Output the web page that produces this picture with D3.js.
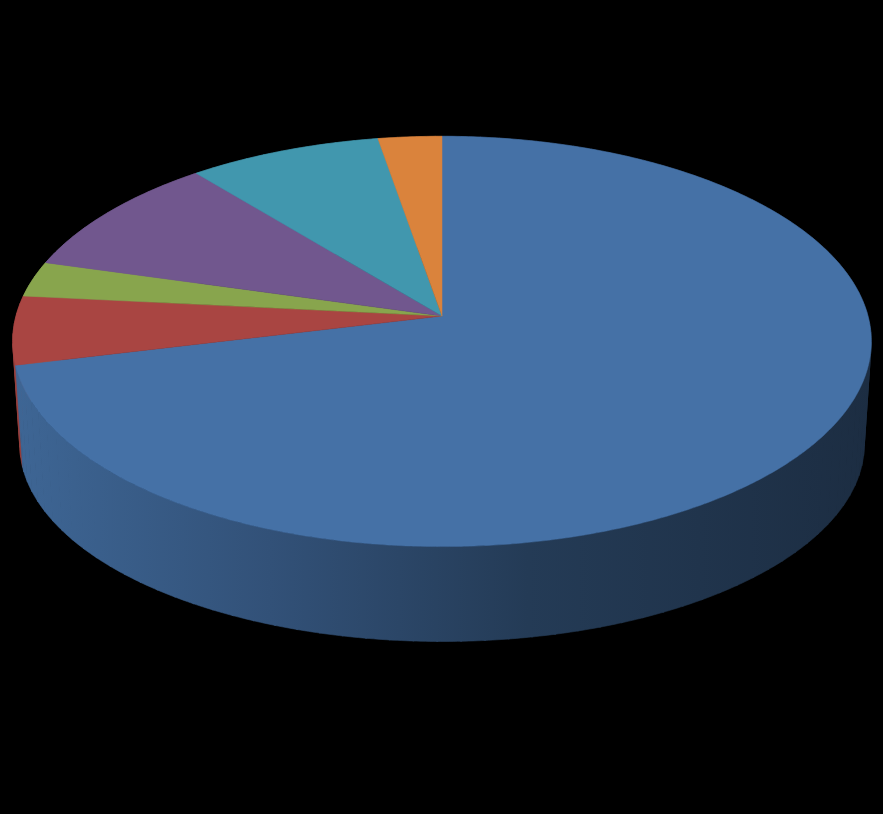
<!DOCTYPE html>
<html>
<head>
<meta charset="utf-8">
<script src="https://cdn.jsdelivr.net/npm/d3@7"></script>
<style>
  html, body { margin: 0; padding: 0; background: #000; }
  svg { display: block; }
</style>
</head>
<body>
<script>
  // slice data, clockwise from 12 o'clock
  const categories = ['Series 1', 'Series 2', 'Series 3', 'Series 4', 'Series 5', 'Series 6'];
  const values = [71.2, 5.4, 2.8, 9.7, 8.2, 2.7];
  const colors = ['#4571a6', '#a94542', '#88a54d', '#71578e', '#4197ae', '#da833c'];

  const width = 883;
  const height = 814;

  // projection settings for the tilted disc (top face and bottom face)
  const cx = 442;
  const persp = 0.124;
  const topFace = { cy: 316, rx: 426, ry: 202 };
  const botFace = { cy: 420, rx: 419, ry: 194 };

  const svg = d3.select('body')
    .append('svg')
    .attr('width', width)
    .attr('height', height);

  svg.append('rect')
    .attr('width', width)
    .attr('height', height)
    .attr('fill', '#000');

  const color = d3.scaleOrdinal()
    .domain(categories)
    .range(colors);

  const pie = d3.pie()
    .sort(null)
    .value((d) => d.value);

  const data = categories.map((c, i) => ({ name: c, value: values[i] }));
  const slices = pie(data);

  // point on a face, a = clockwise angle from top, r = 0..1
  const project = (a, r, face) => {
    const nx = Math.sin(a) * r;
    const ny = -Math.cos(a) * r;
    const f = 1 / (1 - persp * ny);
    return [cx + face.rx * nx * f, face.cy + face.ry * ny * f];
  };

  const line = d3.line();

  const arcPoints = (a0, a1, face) => {
    const n = Math.max(2, Math.ceil((a1 - a0) / 0.01));
    return d3.range(n + 1).map((k) => project(a0 + (a1 - a0) * k / n, 1, face));
  };

  const defs = svg.append('defs');

  slices.forEach((s, i) => {
    const c = d3.rgb(color(s.data.name));
    const g = defs.append('linearGradient')
      .attr('id', 'wall' + i)
      .attr('gradientUnits', 'userSpaceOnUse')
      .attr('x1', cx - topFace.rx - 4)
      .attr('x2', cx + topFace.rx + 4)
      .attr('y1', 0)
      .attr('y2', 0);
    const stops = [[0, 0.9], [0.3, 0.72], [0.6, 0.52], [1, 0.4]];
    stops.forEach(([o, k]) => {
      g.append('stop')
        .attr('offset', o)
        .attr('stop-color', d3.rgb(c.r * k, c.g * k, c.b * k).formatHex());
    });
  });

  // side walls, split into pieces and painted back to front
  const walls = [];
  slices.forEach((s, i) => {
    const step = 0.05;
    for (let a = s.startAngle; a < s.endAngle; a += step) {
      const b = Math.min(a + step + 0.003, s.endAngle);
      const mid = (a + b) / 2;
      walls.push({ i, a, b, z: -Math.cos(mid) });
    }
  });
  walls.sort((p, q) => p.z - q.z);

  svg.append('g')
    .selectAll('path')
    .data(walls)
    .join('path')
    .attr('d', (w) => {
      const top = arcPoints(w.a, w.b, topFace);
      const bot = arcPoints(w.a, w.b, botFace).reverse();
      return line(top.concat(bot)) + 'Z';
    })
    .attr('fill', (w) => `url(#wall${w.i})`)
    .attr('stroke', (w) => `url(#wall${w.i})`)
    .attr('stroke-width', 0.6);

  // top faces
  svg.append('g')
    .selectAll('path')
    .data(slices)
    .join('path')
    .attr('d', (s) => {
      const pts = [[cx, topFace.cy]].concat(arcPoints(s.startAngle, s.endAngle, topFace));
      return line(pts) + 'Z';
    })
    .attr('fill', (s) => color(s.data.name))
    .attr('stroke', (s) => color(s.data.name))
    .attr('stroke-width', 0.5);
</script>
</body>
</html>
